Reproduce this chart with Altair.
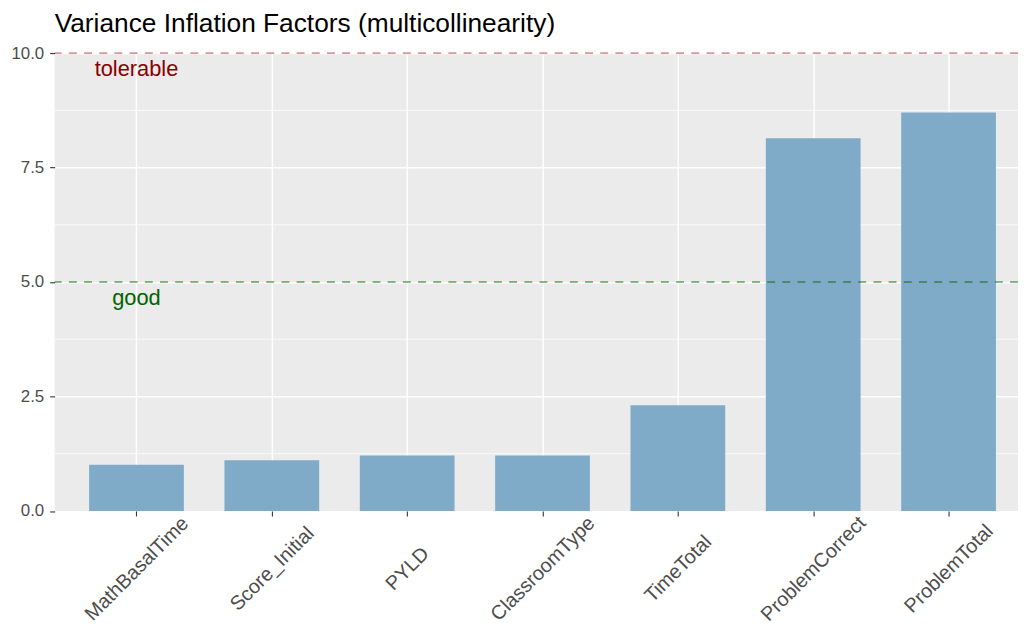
import json
import altair as alt
import pandas as pd

variables = ["MathBasalTime", "Score_Initial", "PYLD", "ClassroomType",
             "TimeTotal", "ProblemCorrect", "ProblemTotal"]
vif = [1.01, 1.11, 1.21, 1.21, 2.31, 8.14, 8.70]

thresholds = [10.0, 5.0]
threshold_labels = ["tolerable", "good"]
threshold_colors = ["#8B0000", "#006400"]
threshold_opacity = [0.4, 0.6]
label_y = [9.65, 4.65]
label_pos = [1, 1]  # position of the first category

major_breaks = [0, 2.5, 5, 7.5, 10]
minor_breaks = [1.25, 3.75, 6.25, 8.75]

FONT = "Liberation Sans"

positions = list(range(1, len(variables) + 1))
bars_df = pd.DataFrame({"pos": positions, "variable": variables, "vif": vif})
minor_df = pd.DataFrame({"vif": minor_breaks})
thr_df = pd.DataFrame({"vif": thresholds, "lab": threshold_labels,
                       "col": threshold_colors, "op": threshold_opacity,
                       "ly": label_y, "pos": label_pos})

label_expr = json.dumps(variables) + "[round(datum.value) - 1]"

# discrete axis drawn like ggplot: categories at 1..n, panel cropped on the right
xscale = alt.Scale(domain=[0.3953, 7.513], nice=False, zero=False)
yscale = alt.Scale(domain=[0, 10], nice=False, zero=True, padding=0)

x_axis = alt.Axis(title=None, values=positions, labelExpr=label_expr,
                  labelAngle=-45, labelAlign="center", labelBaseline="middle",
                  labelPadding=53, labelFontSize=20, labelColor="#4D4D4D", labelFont=FONT,
                  tickSize=5, tickColor="#333333", tickWidth=1.1, domain=False,
                  grid=True, gridColor="white", gridWidth=1.5, labelOverlap=False,
                  labelFlush=False, labelBound=False)
y_axis = alt.Axis(title=None, values=major_breaks, format=".1f", labelFontSize=17,
                  labelColor="#4D4D4D", labelFont=FONT, labelPadding=6, tickSize=5,
                  tickColor="#333333", tickWidth=1.1, domain=False,
                  grid=True, gridColor="white", gridWidth=1.5)

minor = alt.Chart(minor_df).mark_rule(color="white", strokeWidth=0.75).encode(
    y=alt.Y("vif:Q", scale=yscale, axis=y_axis)
)

bars = alt.Chart(bars_df).transform_calculate(
    lo="datum.pos - 0.35", hi="datum.pos + 0.35", base="0"
).mark_rect(color="#7FABC8").encode(
    x=alt.X("lo:Q", scale=xscale, axis=x_axis),
    x2="hi:Q",
    y=alt.Y("vif:Q", scale=yscale, axis=y_axis),
    y2="base:Q",
    tooltip=["variable:N", "vif:Q"],
)

rules = alt.Chart(thr_df).mark_rule(strokeDash=[8, 7.3], strokeWidth=1.7).encode(
    y=alt.Y("vif:Q", scale=yscale, axis=y_axis),
    color=alt.Color("col:N", scale=None),
    opacity=alt.Opacity("op:Q", scale=None),
)

texts = alt.Chart(thr_df).mark_text(fontSize=22, font=FONT, align="center", baseline="middle").encode(
    x=alt.X("pos:Q", scale=xscale, axis=x_axis),
    y=alt.Y("ly:Q", scale=yscale, axis=y_axis),
    text="lab:N",
    color=alt.Color("col:N", scale=None),
)

chart = alt.layer(minor, bars, rules, texts).properties(
    width=971,
    height=461.5,
    title=alt.TitleParams("Variance Inflation Factors (multicollinearity)", anchor="start",
                          fontSize=26.5, fontWeight="normal", font=FONT, color="black",
                          offset=7, frame="group"),
    autosize=alt.AutoSizeParams(type="none"),
    padding={"left": 47, "top": 43, "right": 0, "bottom": 113},
).configure(background="white").configure_view(fill="#EBEBEB", strokeWidth=0)

chart.save("out.html", embed_options={"renderer": "svg", "actions": False})
